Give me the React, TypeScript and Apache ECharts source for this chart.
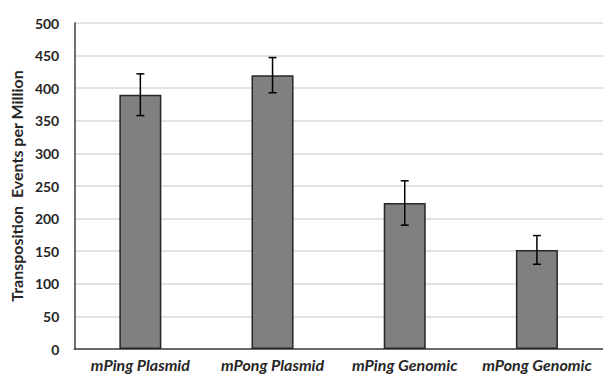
import React, { useEffect, useRef } from "react";
import * as echarts from "echarts";

const categories = ["mPing Plasmid", "mPong Plasmid", "mPing Genomic", "mPong Genomic"];
const values = [390, 420, 224, 152];
const errors = [32, 27, 34, 22];
const yTicks = { min: 0, max: 500, interval: 50 };

export default function App() {
  const ref = useRef<HTMLDivElement>(null);
  useEffect(() => {
    if (!ref.current) return;
    const chart = echarts.init(ref.current, undefined, { renderer: "svg" });
    const errData = values.map((v, i) => [i, v - errors[i], v + errors[i]]);
    chart.setOption({
      animation: false,
      backgroundColor: "#ffffff",
      grid: { left: 69, right: 0, top: 23, bottom: 27 },
      xAxis: {
        type: "category",
        data: categories,
        axisTick: { show: false },
        axisLine: { show: true, lineStyle: { color: "#404040", width: 1.5 } },
        axisLabel: {
          margin: 7,
          fontFamily: "Lato",
          fontWeight: "bold",
          fontStyle: "italic",
          fontSize: 16,
          color: "#262626",
          interval: 0,
        },
      },
      yAxis: {
        type: "value",
        min: yTicks.min,
        max: yTicks.max,
        interval: yTicks.interval,
        name: "Transposition  Events per Million",
        nameLocation: "middle",
        nameGap: 43,
        nameTextStyle: { fontFamily: "Lato", fontWeight: "bold", fontSize: 16, color: "#262626" },
        axisLine: { show: true, lineStyle: { color: "#404040", width: 1.5 } },
        axisTick: { show: false },
        axisLabel: { margin: 15, fontFamily: "Lato", fontWeight: "bold", fontSize: 14, color: "#262626" },
        splitLine: { lineStyle: { color: "#d9d9d9", width: 1.5 } },
      },
      series: [
        {
          type: "bar",
          data: values,
          barWidth: 42,
          itemStyle: { color: "#808080", borderColor: "#262626", borderWidth: 1.5 },
          z: 2,
        },
        {
          type: "custom",
          data: errData,
          z: 3,
          renderItem: (params: any, api: any) => {
            const x = api.value(0);
            const lo = api.coord([x, api.value(1)]);
            const hi = api.coord([x, api.value(2)]);
            const hw = 4;
            const style = { stroke: "#000000", lineWidth: 1.5 };
            return {
              type: "group",
              children: [
                { type: "line", shape: { x1: lo[0], y1: lo[1], x2: hi[0], y2: hi[1] }, style },
                { type: "line", shape: { x1: hi[0] - hw, y1: hi[1], x2: hi[0] + hw, y2: hi[1] }, style },
                { type: "line", shape: { x1: lo[0] - hw, y1: lo[1], x2: lo[0] + hw, y2: lo[1] }, style },
              ],
            };
          },
        },
      ],
    });
    return () => chart.dispose();
  }, []);
  return <div ref={ref} style={{ width: 603, height: 376, position: "fixed", left: 0, top: 0 }} />;
}
